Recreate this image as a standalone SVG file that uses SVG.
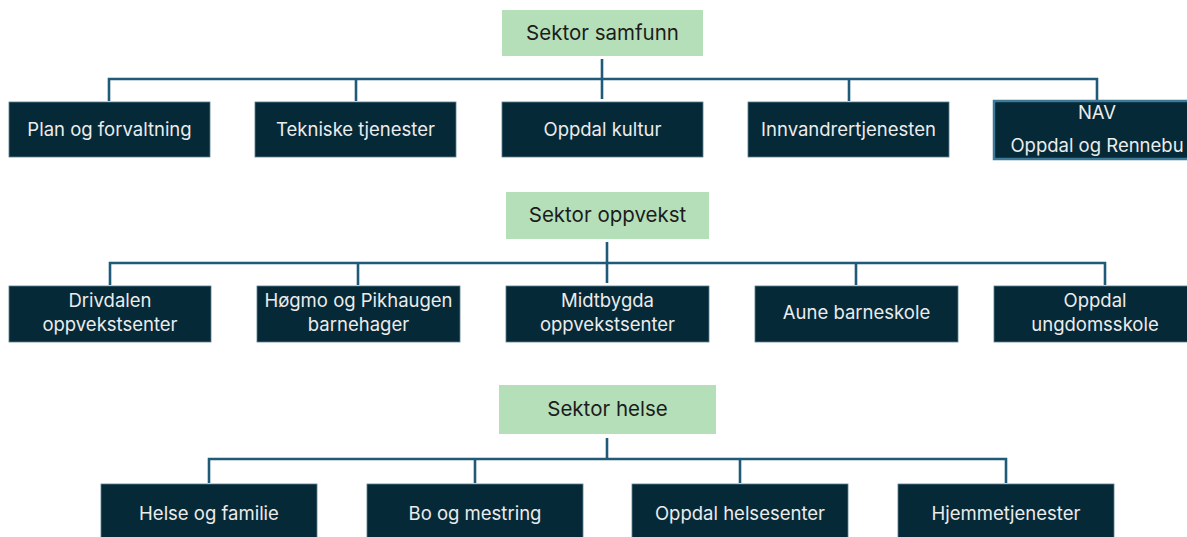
<svg xmlns="http://www.w3.org/2000/svg" width="1187" height="537" viewBox="0 0 1187 537">
<style>
.hdr{fill:#b5dfb9}
.box{fill:#052937;stroke:#5b7f8f;stroke-width:0.8}
.nav{fill:#052937;stroke:#3d7a98;stroke-width:2.5}
.ht{font-family:Inter,"Open Sans","Liberation Sans",sans-serif;font-size:20.5px;fill:#1c1c1c;text-anchor:middle}
.bt{font-family:Inter,"Open Sans","Liberation Sans",sans-serif;font-size:18.5px;fill:#ececec;text-anchor:middle}
.c{fill:none;stroke:#1f5a78;stroke-width:2.6}
</style>
<rect width="1187" height="537" fill="#ffffff"/>
<g id="connectors">
<path class="c" d="M602 59V99M109 101V79H1097V101M356 79V101M849 79V101"/>
<path class="c" d="M607 242V283M110 285V263H1105V285M358 263V285M856 263V285"/>
<path class="c" d="M607 438V459M209 483V459H1006V483M475 459V483M740 459V483"/>
</g>
<g id="sektor-samfunn"><rect class="hdr" x="502" y="10" width="201" height="46"/><text class="ht" x="602.5" y="40">Sektor samfunn</text></g>
<g id="plan"><rect class="box" x="9" y="102" width="201" height="55"/><text class="bt" x="109.5" y="136">Plan og forvaltning</text></g>
<g id="tekniske"><rect class="box" x="255" y="102" width="201" height="55"/><text class="bt" x="355.5" y="136">Tekniske tjenester</text></g>
<g id="kultur"><rect class="box" x="502" y="102" width="201" height="55"/><text class="bt" x="602.5" y="136">Oppdal kultur</text></g>
<g id="innvandrer"><rect class="box" x="748" y="102" width="201" height="55"/><text class="bt" x="848.5" y="136">Innvandrertjenesten</text></g>
<g id="nav"><rect class="nav" x="994" y="101" width="210" height="58"/><text class="bt" x="1097" y="119">NAV</text><text class="bt" x="1097" y="152">Oppdal og Rennebu</text></g>
<g id="sektor-oppvekst"><rect class="hdr" x="506" y="192" width="203" height="47"/><text class="ht" x="607.5" y="222">Sektor oppvekst</text></g>
<g id="drivdalen"><rect class="box" x="9" y="286" width="202" height="56"/><text class="bt" x="110" y="307">Drivdalen</text><text class="bt" x="110" y="331">oppvekstsenter</text></g>
<g id="hogmo"><rect class="box" x="257" y="286" width="203" height="56"/><text class="bt" x="358.5" y="307">Høgmo og Pikhaugen</text><text class="bt" x="358.5" y="331">barnehager</text></g>
<g id="midtbygda"><rect class="box" x="506" y="286" width="203" height="56"/><text class="bt" x="607.5" y="307">Midtbygda</text><text class="bt" x="607.5" y="331">oppvekstsenter</text></g>
<g id="aune"><rect class="box" x="755" y="286" width="203" height="56"/><text class="bt" x="856.5" y="319">Aune barneskole</text></g>
<g id="ungdomsskole"><rect class="box" x="994" y="286" width="203" height="56"/><text class="bt" x="1095" y="307">Oppdal</text><text class="bt" x="1095" y="331">ungdomsskole</text></g>
<g id="sektor-helse"><rect class="hdr" x="499" y="385" width="217" height="49"/><text class="ht" x="607.5" y="416">Sektor helse</text></g>
<g id="helse-familie"><rect class="box" x="101" y="484" width="216" height="60"/><text class="bt" x="209" y="520">Helse og familie</text></g>
<g id="bo-mestring"><rect class="box" x="367" y="484" width="216" height="60"/><text class="bt" x="475" y="520">Bo og mestring</text></g>
<g id="helsesenter"><rect class="box" x="632" y="484" width="216" height="60"/><text class="bt" x="740" y="520">Oppdal helsesenter</text></g>
<g id="hjemmetjenester"><rect class="box" x="898" y="484" width="216" height="60"/><text class="bt" x="1006" y="520">Hjemmetjenester</text></g>
</svg>
